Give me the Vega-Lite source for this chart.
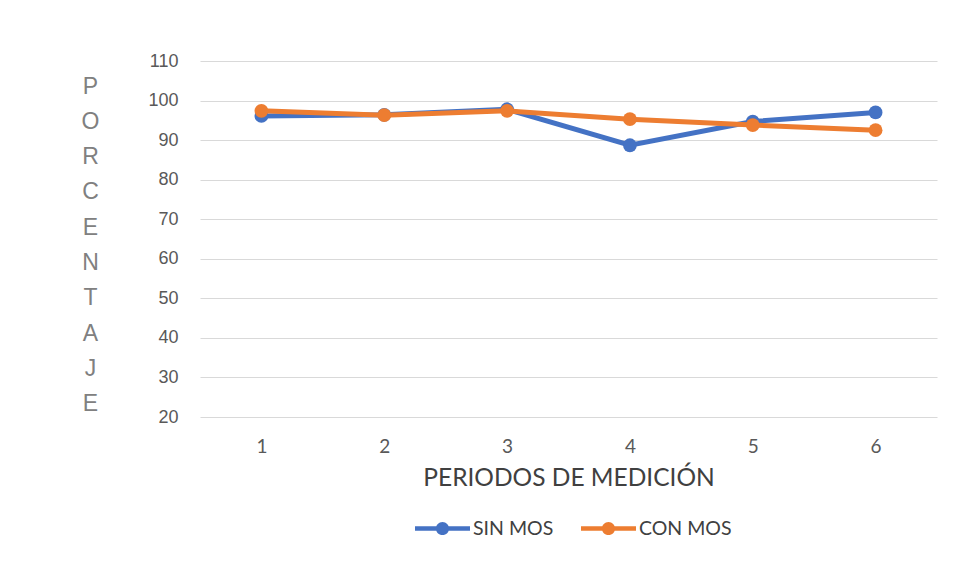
{
  "$schema": "https://vega.github.io/schema/vega-lite/v6.json",
  "autosize": "none",
  "width": 737,
  "height": 356,
  "padding": {"left": 200, "top": 61, "right": 21, "bottom": 165},
  "background": "white",
  "data": {
    "values": [
      {"periodo": "1", "serie": "SIN MOS", "valor": 96.1},
      {"periodo": "2", "serie": "SIN MOS", "valor": 96.4},
      {"periodo": "3", "serie": "SIN MOS", "valor": 97.8},
      {"periodo": "4", "serie": "SIN MOS", "valor": 88.7},
      {"periodo": "5", "serie": "SIN MOS", "valor": 94.7},
      {"periodo": "6", "serie": "SIN MOS", "valor": 97.0},
      {"periodo": "1", "serie": "CON MOS", "valor": 97.4},
      {"periodo": "2", "serie": "CON MOS", "valor": 96.3},
      {"periodo": "3", "serie": "CON MOS", "valor": 97.4},
      {"periodo": "4", "serie": "CON MOS", "valor": 95.3},
      {"periodo": "5", "serie": "CON MOS", "valor": 93.8},
      {"periodo": "6", "serie": "CON MOS", "valor": 92.5}
    ]
  },
  "encoding": {
    "x": {
      "field": "periodo",
      "type": "ordinal",
      "scale": {"type": "point", "padding": 0.5},
      "axis": {
        "title": "PERIODOS DE MEDICIÓN",
        "labelAngle": 0,
        "domain": false,
        "ticks": false,
        "grid": false,
        "labelFont": "Lato",
        "labelFontSize": 19,
        "labelColor": "#595959",
        "labelPadding": 20,
        "titleFont": "Lato",
        "titleFontSize": 24.5,
        "titleFontWeight": "normal",
        "titleColor": "#404040",
        "titlePadding": 10
      }
    },
    "y": {
      "field": "valor",
      "type": "quantitative",
      "scale": {"domain": [20, 110], "nice": false, "zero": false},
      "axis": {
        "values": [20, 30, 40, 50, 60, 70, 80, 90, 100, 110],
        "title": ["P", "O", "R", "C", "E", "N", "T", "A", "J", "E"],
        "titleAngle": 0,
        "titleX": -110,
        "titleY": 32,
        "titleAlign": "center",
        "titleBaseline": "alphabetic",
        "titleLineHeight": 35.3,
        "titleFont": "Liberation Sans",
        "titleFontSize": 23,
        "titleFontWeight": "normal",
        "titleColor": "#808080",
        "domain": false,
        "ticks": false,
        "grid": true,
        "gridColor": "#D9D9D9",
        "gridWidth": 1.2,
        "labelFont": "Liberation Sans",
        "labelFontSize": 18,
        "labelColor": "#595959",
        "labelPadding": 22
      }
    },
    "color": {
      "field": "serie",
      "type": "nominal",
      "scale": {"domain": ["SIN MOS", "CON MOS"], "range": ["#4472C4", "#ED7D31"]},
      "legend": {
        "title": null,
        "orient": "none",
        "direction": "horizontal",
        "legendX": 215,
        "legendY": 440,
        "symbolType": "M-1,-0.08L1,-0.08L1,0.08L-1,0.08Z M-0.24,0A0.24,0.24,0,1,1,0.24,0A0.24,0.24,0,1,1,-0.24,0Z",
        "symbolSize": 3025,
        "symbolStrokeWidth": 0,
        "labelFont": "Lato",
        "labelFontSize": 19.5,
        "labelColor": "#404040",
        "labelOffset": 3,
        "columnPadding": 27,
        "encode": {
          "symbols": {
            "update": {
              "fill": {"scale": "color", "field": "value"},
              "stroke": {"value": "transparent"},
              "opacity": {"value": 1}
            }
          }
        }
      }
    }
  },
  "layer": [
    {
      "transform": [{"filter": "datum.serie === 'SIN MOS'"}],
      "mark": {"type": "line", "strokeWidth": 5, "point": {"filled": true, "size": 190, "opacity": 1}}
    },
    {
      "transform": [{"filter": "datum.serie === 'CON MOS'"}],
      "mark": {"type": "line", "strokeWidth": 5, "point": {"filled": true, "size": 190, "opacity": 1}}
    }
  ],
  "config": {"view": {"stroke": null}}
}
